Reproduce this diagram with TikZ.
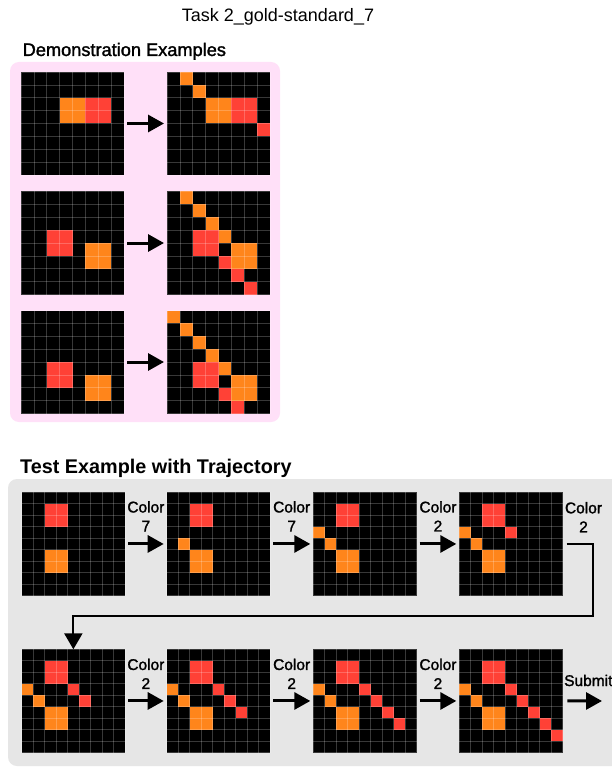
\documentclass[tikz,border=0pt]{standalone}
\usepackage{fontspec}
\setmainfont{Liberation Sans}
\newfontfamily\medfam[BoldFont=Liberation Sans, BoldFeatures={FakeBold=1.6}]{Liberation Sans}
\newcommand\medfont{\medfam\bfseries}
\usetikzlibrary{arrows.meta}
\definecolor{og}{HTML}{FF851B}
\definecolor{rd}{HTML}{FF4136}
\definecolor{pinkbg}{HTML}{FFE0F8}
\definecolor{graybg}{HTML}{E6E6E6}
\tikzset{
  gridline/.style={white, opacity=0.22, line width=0.6pt},
  gridnode/.style={inner sep=0pt, outer sep=0pt, draw=none},
  arr/.style={line width=3pt, -{Triangle[length=16pt,width=17pt]}, shorten <=3pt, shorten >=3pt},
  conn/.style={line width=2.2pt, -{Triangle[length=16pt,width=18pt]}},
  lbl/.style={font=\fontsize{15.5}{19}\medfont, align=center, inner sep=0pt},
}
\newcommand\arcgrid[6]{%
  \fill[black] (#2,#3) rectangle ++({#4*#5},{#4*#5});
  \foreach \r/\c/\k in {#6} {\fill[\k] ({#2+\c*#5},{#3+\r*#5}) rectangle ++(#5,#5);}
  \pgfmathtruncatemacro\nm{#4-1}
  \foreach \i in {1,...,\nm} {
    \draw[gridline] ({#2+\i*#5},#3) -- ++(0,{#4*#5});
    \draw[gridline] (#2,{#3+\i*#5}) -- ++({#4*#5},0);
  }
  \draw[gridline] (#2,#3) rectangle ++({#4*#5},{#4*#5});
  \node[gridnode, minimum width={#4*#5}, minimum height={#4*#5}] (#1) at ({#2+#4*#5/2},{#3+#4*#5/2}) {};
}
\begin{document}
\begin{tikzpicture}[x=1pt,y=-1pt]
\useasboundingbox (0,0) rectangle (611,767);
\fill[white] (0,0) rectangle (611,767);
% titles
\node[font=\fontsize{18}{20}\selectfont, anchor=base] (title) at (278,22) {Task 2\_gold-standard\_7};
\node[font=\fontsize{18.2}{20}\medfont, anchor=base west, inner sep=0pt] (demoh) at (22.5,56) {Demonstration Examples};
\fill[pinkbg, rounded corners=9pt] (10,62) rectangle (280,422);
% demo grids
\def\ds{12.875}
\arcgrid{D1in}{21}{72}{8}{\ds}{2/3/og,2/4/og,3/3/og,3/4/og,2/5/rd,2/6/rd,3/5/rd,3/6/rd}
\arcgrid{D1out}{167}{72}{8}{\ds}{0/1/og,1/2/og,2/3/og,2/4/og,3/3/og,3/4/og,2/5/rd,2/6/rd,3/5/rd,3/6/rd,4/7/rd}
\arcgrid{D2in}{21}{191.5}{8}{\ds}{3/2/rd,3/3/rd,4/2/rd,4/3/rd,4/5/og,4/6/og,5/5/og,5/6/og}
\arcgrid{D2out}{167}{191.5}{8}{\ds}{0/1/og,1/2/og,2/3/og,3/4/og,3/2/rd,3/3/rd,4/2/rd,4/3/rd,4/5/og,4/6/og,5/5/og,5/6/og,5/4/rd,6/5/rd,7/6/rd}
\arcgrid{D3in}{21}{310.5}{8}{\ds}{4/2/rd,4/3/rd,5/2/rd,5/3/rd,5/5/og,5/6/og,6/5/og,6/6/og}
\arcgrid{D3out}{167}{310.5}{8}{\ds}{0/0/og,1/1/og,2/2/og,3/3/og,4/4/og,4/2/rd,4/3/rd,5/2/rd,5/3/rd,5/5/og,5/6/og,6/5/og,6/6/og,6/4/rd,7/5/rd}
\draw[arr] (D1in) -- (D1out);
\draw[arr] (D2in) -- (D2out);
\draw[arr] (D3in) -- (D3out);
% test section
\node[font=\fontsize{19.8}{22}\selectfont\bfseries, anchor=base west, inner sep=0pt] (testh) at (20,473) {Test Example with Trajectory};
\fill[graybg, rounded corners=9pt] (8,479) rectangle (640,766);
\def\ts{11.48}
\arcgrid{T1}{21.7}{492.3}{9}{\ts}{1/2/rd,1/3/rd,2/2/rd,2/3/rd,5/2/og,5/3/og,6/2/og,6/3/og}
\arcgrid{T2}{166.7}{492.3}{9}{\ts}{1/2/rd,1/3/rd,2/2/rd,2/3/rd,5/2/og,5/3/og,6/2/og,6/3/og,4/1/og}
\arcgrid{T3}{313.3}{492.3}{9}{\ts}{1/2/rd,1/3/rd,2/2/rd,2/3/rd,5/2/og,5/3/og,6/2/og,6/3/og,3/0/og,4/1/og}
\arcgrid{T4}{459.3}{492.3}{9}{\ts}{1/2/rd,1/3/rd,2/2/rd,2/3/rd,5/2/og,5/3/og,6/2/og,6/3/og,3/0/og,4/1/og,3/4/rd}
\arcgrid{T5}{21.7}{649.3}{9}{\ts}{1/2/rd,1/3/rd,2/2/rd,2/3/rd,5/2/og,5/3/og,6/2/og,6/3/og,3/0/og,4/1/og,3/4/rd,4/5/rd}
\arcgrid{T6}{166.7}{649.3}{9}{\ts}{1/2/rd,1/3/rd,2/2/rd,2/3/rd,5/2/og,5/3/og,6/2/og,6/3/og,3/0/og,4/1/og,3/4/rd,4/5/rd,5/6/rd}
\arcgrid{T7}{313.3}{649.3}{9}{\ts}{1/2/rd,1/3/rd,2/2/rd,2/3/rd,5/2/og,5/3/og,6/2/og,6/3/og,3/0/og,4/1/og,3/4/rd,4/5/rd,5/6/rd,6/7/rd}
\arcgrid{T8}{459.3}{649.3}{9}{\ts}{1/2/rd,1/3/rd,2/2/rd,2/3/rd,5/2/og,5/3/og,6/2/og,6/3/og,3/0/og,4/1/og,3/4/rd,4/5/rd,5/6/rd,6/7/rd,7/8/rd}
\draw[arr] (T1) -- node[lbl, above=11pt] {Color\\7} (T2);
\draw[arr] (T2) -- node[lbl, above=11pt] {Color\\7} (T3);
\draw[arr] (T3) -- node[lbl, above=11pt] {Color\\2} (T4);
\draw[arr] (T5) -- node[lbl, above=10.5pt] {Color\\2} (T6);
\draw[arr] (T6) -- node[lbl, above=10.5pt] {Color\\2} (T7);
\draw[arr] (T7) -- node[lbl, above=10.5pt] {Color\\2} (T8);
% Color 2 label after T4
\node[lbl, anchor=south] (c4lbl) at (583.5,532.5) {Color\\2};
% connector T4 -> T5
\coordinate (cA) at (593,616);
\draw[conn] ([xshift=4pt]T4.east) -| (cA) -| (T5.north);
% submit
\coordinate (subend) at (602,701);
\draw[arr, shorten <=0pt, shorten >=0pt] ([xshift=4.7pt]T8.east) -- (subend);
\node[lbl, anchor=base west] (sub) at (564,686) {Submit};
\end{tikzpicture}
\end{document}
